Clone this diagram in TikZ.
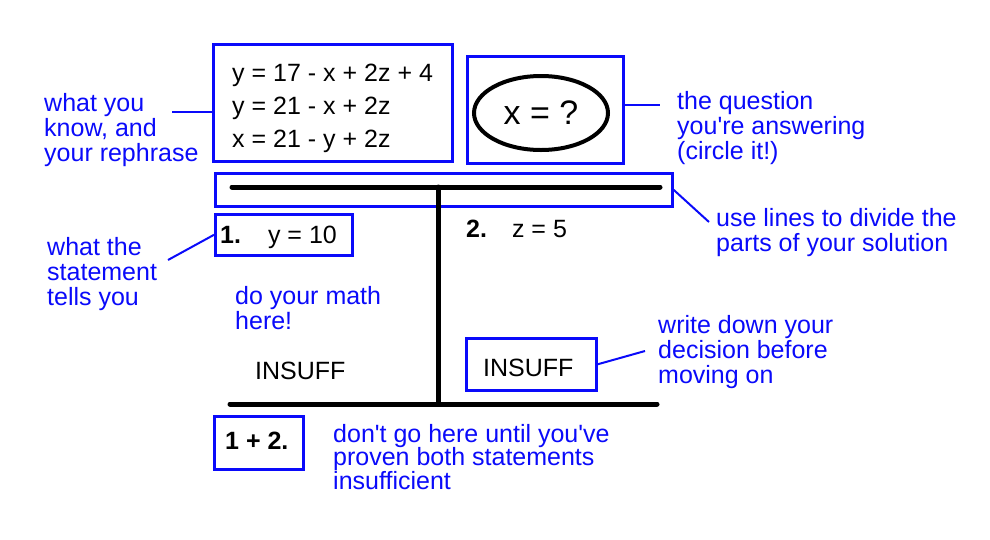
\documentclass[tikz,border=0pt]{standalone}
\usepackage{fontspec}
\setmainfont{Liberation Sans}[Ligatures=TeXOff]
\usetikzlibrary{shapes.geometric}
\definecolor{annblue}{RGB}{10,10,250}
\tikzset{
  bluebox/.style={draw=annblue, line width=2.6pt, inner sep=0pt, anchor=north west},
  ann/.style={text=annblue, font=\fontsize{25}{25}\selectfont, align=left, inner sep=0pt, anchor=base west},
  txt/.style={text=black, font=\fontsize{25}{33}\selectfont, align=left, inner sep=0pt, anchor=base west},
  bar/.style={line width=5pt, line cap=round, draw=black},
  lead/.style={draw=annblue, line width=2pt},
}
\begin{document}
\begin{tikzpicture}[x=1pt,y=-1pt]
\useasboundingbox (0,0) rectangle (990,539);
% boxes
\node[bluebox, minimum width=239, minimum height=117] (eqbox) at (212,43) {};
\node[bluebox, minimum width=156, minimum height=107] (qbox) at (466,55) {};
\node[bluebox, minimum width=457, minimum height=33] (barbox) at (214,172) {};
\node[bluebox, minimum width=137, minimum height=41] (sbox) at (214,213) {};
\node[bluebox, minimum width=130, minimum height=52] (ibox) at (465,337) {};
\node[bluebox, minimum width=89, minimum height=53] (cbox) at (213,415) {};
% equations (anchor = baseline of last line)
\node[txt] (eq) at (232,147) {y = 17 - x + 2z + 4\\y = 21 - x + 2z\\x = 21 - y + 2z};
% question ellipse
\node[draw=black, ellipse, line width=4pt, minimum width=134, minimum height=74, inner sep=0pt, font=\fontsize{34}{38}\selectfont] (q) at (541,113) {x = ?};
% T lines
\coordinate (tl) at (232,187);
\coordinate (tr) at (660,187);
\coordinate (tm) at (438,187);
\coordinate (bm) at (438,404);
\coordinate (bl) at (230,404);
\coordinate (br) at (657,404);
\draw[bar] (tl) -- (tr);
\draw[bar] (tm) -- (bm);
\draw[bar] (bl) -- (br);
% statements
\node[txt] (s1) at (220,243) {\textbf{1.}\hspace{27pt}y = 10};
\node[txt] (s2) at (466,237) {\textbf{2.}\hspace{25pt}z = 5};
\node[txt] (ins1) at (255,379) {INSUFF};
\node[txt] (ins2) at (483,376) {INSUFF};
\node[txt] (both) at (225,449) {\textbf{1 + 2.}};
% annotations (anchor = baseline of last line)
\node[ann] (aknow) at (44,161) {what you\\know, and\\your rephrase};
\node[ann] (astmt) at (47,305) {what the\\statement\\tells you};
\node[ann] (amath) at (235,329) {do your math\\here!};
\node[ann] (aq) at (677,159) {the question\\you're answering\\(circle it!)};
\node[ann] (alines) at (716,251) {use lines to divide the\\parts of your solution};
\node[ann] (adec) at (658,383) {write down your\\decision before\\moving on};
\node[ann, font=\fontsize{25}{23.5}\selectfont] (adont) at (333,489) {don't go here until you've\\proven both statements\\insufficient};
% leaders
\coordinate (c1) at (172,112);
\draw[lead] (c1) -- (c1 -| eqbox.west);
\coordinate (c2) at (168,260);
\draw[lead] (c2) -- (sbox.west);
\coordinate (c3) at (660,105);
\draw[lead] (c3 -| qbox.east) -- (c3);
\coordinate (c4) at (709,222);
\draw[lead] (barbox.east) -- (c4);
\coordinate (c5) at (645,351);
\draw[lead] (ibox.east) -- (c5);
\end{tikzpicture}
\end{document}
